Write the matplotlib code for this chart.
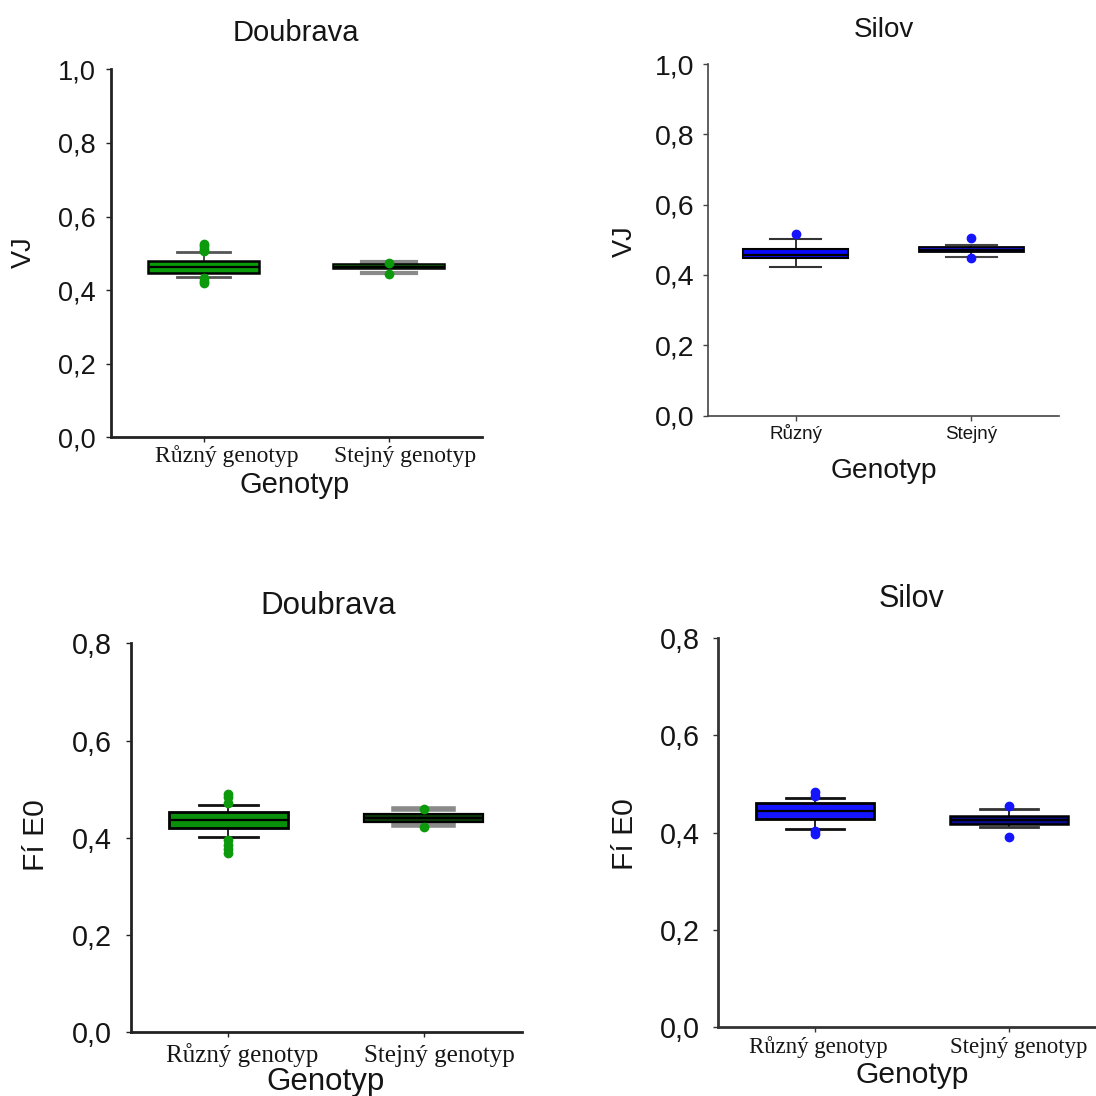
import matplotlib.pyplot as plt
from matplotlib import ticker
from matplotlib.transforms import ScaledTranslation

SANS = "Liberation Sans"
SERIF = "Liberation Serif"

# Box-plot summaries per group: [Různý, Stejný]
# VJ - Doubrava
vj_doub_q1 = [0.447, 0.457]
vj_doub_med = [0.463, 0.463]
vj_doub_q3 = [0.480, 0.471]
vj_doub_lo = [0.436, 0.447]
vj_doub_hi = [0.504, 0.4755]
vj_doub_out = [[0.506, 0.512, 0.519, 0.525, 0.432, 0.425, 0.419], [0.4745, 0.444]]

# VJ - Silov
vj_sil_q1 = [0.449, 0.465]
vj_sil_med = [0.4575, 0.472]
vj_sil_q3 = [0.473, 0.4785]
vj_sil_lo = [0.423, 0.452]
vj_sil_hi = [0.502, 0.485]
vj_sil_out = [[0.5155], [0.504, 0.447]]

# Fí E0 - Doubrava
fi_doub_q1 = [0.4195, 0.433]
fi_doub_med = [0.4366, 0.4407]
fi_doub_q3 = [0.4536, 0.449]
fi_doub_lo = [0.401, 0.4263]
fi_doub_hi = [0.468, 0.4586]
fi_doub_out = [[0.491, 0.484, 0.471, 0.396, 0.386, 0.376, 0.368], [0.4586, 0.4228]]

# Fí E0 - Silov
fi_sil_q1 = [0.428, 0.4175]
fi_sil_med = [0.445, 0.4258]
fi_sil_q3 = [0.460, 0.434]
fi_sil_lo = [0.4066, 0.4107]
fi_sil_hi = [0.471, 0.4484]
fi_sil_out = [[0.484, 0.476, 0.403, 0.396], [0.4546, 0.391]]

long_labels = ["Různý genotyp", "Stejný genotyp"]
short_labels = ["Různý", "Stejný"]

W = H = 1096
fig = plt.figure(figsize=(W / 100, H / 100), dpi=100)


def px_axes(left, top, right, bottom):
    return fig.add_axes([left / W, 1 - bottom / H, (right - left) / W, (bottom - top) / H])


def px_text(x, y, s, size, **kw):
    fig.text(x / W, 1 - y / H, s, fontsize=size, family=SANS, color="#151515", **kw)


def stats(q1, med, q3, lo, hi, out):
    return [
        dict(q1=q1[i], med=med[i], q3=q3[i], whislo=lo[i], whishi=hi[i], fliers=out[i])
        for i in range(len(q1))
    ]


def panel(ax, data, faces, point_color, ymax, xmax, width, capw, edge_lws,
          whisk_colors, cap_colors, cap_lws, spine_color, spine_lw):
    art = ax.bxp(data, positions=[1, 2], widths=width, capwidths=capw,
                 patch_artist=True, showfliers=True,
                 flierprops=dict(marker="o", markersize=6, markerfacecolor=point_color,
                                 markeredgecolor=point_color, linestyle="none"),
                 medianprops=dict(color="black", linewidth=1.6),
                 boxprops=dict(edgecolor="black"))
    for i, box in enumerate(art["boxes"]):
        box.set_facecolor(faces[i])
        box.set_linewidth(edge_lws[i])
        box.set_zorder(3)
        art["medians"][i].set_zorder(4)
        for w in art["whiskers"][2 * i:2 * i + 2]:
            w.set_color(whisk_colors[i])
            w.set_linewidth(1.3)
        for c in art["caps"][2 * i:2 * i + 2]:
            c.set_color(cap_colors[i])
            c.set_linewidth(cap_lws[i])
    for f in art["fliers"]:
        f.set_zorder(5)
    ax.set_xlim(0.5, xmax)
    ax.set_ylim(0, ymax)
    for side in ("top", "right"):
        ax.spines[side].set_visible(False)
    for side in ("left", "bottom"):
        ax.spines[side].set_color(spine_color)
        ax.spines[side].set_linewidth(spine_lw)
    ax.yaxis.set_major_formatter(ticker.FuncFormatter(lambda v, _: f"{v:.1f}".replace(".", ",")))
    ax.tick_params(colors=spine_color, length=3.5, width=1)
    ax.set_facecolor("none")


def set_xlabels(ax, labels, family, size, pad, dx_px):
    # labels sit on a common baseline, nudged sideways by dx_px pixels
    ax.set_xticks([1, 2], labels, family=family, fontsize=size, color="#151515")
    ax.tick_params(axis="x", pad=pad)
    for lab, dx in zip(ax.get_xticklabels(), dx_px):
        lab.set_verticalalignment("baseline")
        lab.set_transform(lab.get_transform() + ScaledTranslation(dx / 100, 0, fig.dpi_scale_trans))


def set_ylabels(ax, ticks, size, pad):
    ax.set_yticks(ticks)
    ax.tick_params(axis="y", labelsize=size, pad=pad, labelcolor="#151515")
    for lab in ax.get_yticklabels():
        lab.set_family(SANS)


# --- VJ, Doubrava ---
ax1 = px_axes(110.7, 69.3, 482, 437.3)
panel(ax1, stats(vj_doub_q1, vj_doub_med, vj_doub_q3, vj_doub_lo, vj_doub_hi, vj_doub_out),
      ["#0a9a0a", "#0d4f0d"], "#0c9a0c", 1.0, 2.5, 0.60, 0.29, [1.8, 1.1],
      ["#444444", "#8a8a8a"], ["#555555", "#8a8a8a"], [2.0, 3.0], "#222222", 2.0)
set_ylabels(ax1, [0, 0.2, 0.4, 0.6, 0.8, 1.0], 19.5, 7)
set_xlabels(ax1, long_labels, SERIF, 17, 14, [23, 16])
px_text(296, 41, "Doubrava", 21, ha="center", va="baseline")
px_text(294.5, 493, "Genotyp", 21, ha="center", va="baseline")
px_text(23.6, 252.5, "VJ", 19.5, ha="center", va="center", rotation=90)

# --- VJ, Silov ---
ax2 = px_axes(707.7, 64, 1059.4, 415.5)
panel(ax2, stats(vj_sil_q1, vj_sil_med, vj_sil_q3, vj_sil_lo, vj_sil_hi, vj_sil_out),
      ["#0a0aff", "#1010c8"], "#1414ff", 1.0, 2.5, 0.60, 0.29, [1.5, 1.3],
      ["#222222", "#222222"], ["#333333", "#444444"], [1.5, 1.5], "#444444", 1.2)
set_ylabels(ax2, [0, 0.2, 0.4, 0.6, 0.8, 1.0], 20.5, 6)
set_xlabels(ax2, short_labels, SANS, 13.5, 13.6, [0, 0])
px_text(884, 36.7, "Silov", 20, ha="center", va="baseline")
px_text(883.7, 478.3, "Genotyp", 20.3, ha="center", va="baseline")
px_text(625, 241, "VJ", 19.5, ha="center", va="center", rotation=90)

# --- Fí E0, Doubrava ---
ax3 = px_axes(130.7, 643.3, 521.5, 1032.3)
panel(ax3, stats(fi_doub_q1, fi_doub_med, fi_doub_q3, fi_doub_lo, fi_doub_hi, fi_doub_out),
      ["#0a8f0a", "#0c3d0c"], "#0c9a0c", 0.8, 2.5, 0.61, 0.30, [2.0, 1.6],
      ["#111111", "#8a8a8a"], ["#111111", "#8a8a8a"], [2.0, 4.0], "#222222", 2.0)
set_ylabels(ax3, [0, 0.2, 0.4, 0.6, 0.8], 20.7, 10)
set_xlabels(ax3, long_labels, SERIF, 18, 17.9, [14, 15.5])
px_text(327.7, 614, "Doubrava", 22.5, ha="center", va="baseline")
px_text(325, 1090, "Genotyp", 22.5, ha="center", va="baseline")
px_text(36, 835, "Fí E0", 21.6, ha="center", va="center", rotation=90)

# --- Fí E0, Silov ---
ax4 = px_axes(717.7, 638.3, 1096, 1026.7)
panel(ax4, stats(fi_sil_q1, fi_sil_med, fi_sil_q3, fi_sil_lo, fi_sil_hi, fi_sil_out),
      ["#1515ff", "#0a0a90"], "#1414ff", 0.8, 2.45, 0.61, 0.30, [2.0, 1.8],
      ["#111111", "#111111"], ["#111111", "#333333"], [2.0, 2.0], "#333333", 2.0)
set_ylabels(ax4, [0, 0.2, 0.4, 0.6, 0.8], 20.7, 9)
set_xlabels(ax4, long_labels, SERIF, 16.4, 15.4, [4, 10])
px_text(911.5, 607, "Silov", 22, ha="center", va="baseline")
px_text(912.4, 1083, "Genotyp", 21.6, ha="center", va="baseline")
px_text(625, 834, "Fí E0", 21.6, ha="center", va="center", rotation=90)

fig.savefig("out.png", dpi=100, facecolor="white")
